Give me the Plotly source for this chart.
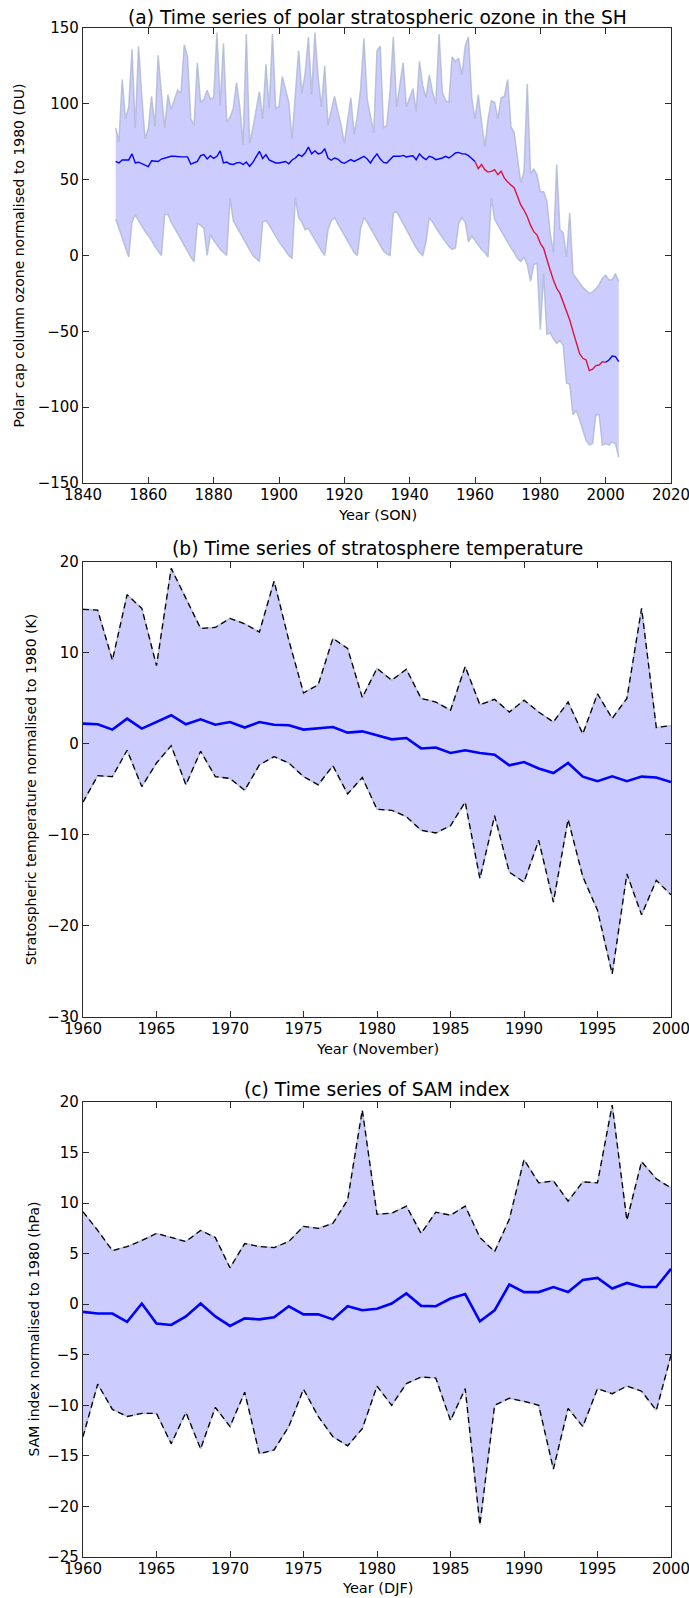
import plotly.graph_objects as go

# ---------------- (a) polar cap column ozone, SON, normalised to 1980 (DU)
ozone_years = list(range(1850, 2005))
ozone_upper = [
    84, 75, 116, 90, 98, 136, 84, 138, 105, 77,          # 1850s
    84, 105, 85, 132, 107, 84, 106, 96, 103, 109,        # 1860s
    107, 139, 131, 90, 86, 127, 101, 103, 109, 103,      # 1870s
    104, 147, 99, 140, 88, 91, 97, 114, 98, 73,          # 1880s
    146, 74, 84, 97, 108, 90, 126, 97, 146, 97,          # 1890s
    98, 118, 110, 101, 77, 106, 135, 107, 120, 144,      # 1900s
    106, 147, 117, 98, 125, 86, 95, 105, 95, 86,         # 1910s
    74, 88, 104, 80, 92, 110, 143, 103, 92, 81,          # 1920s
    135, 138, 84, 86, 108, 144, 98, 112, 127, 98,        # 1930s
    104, 110, 95, 128, 112, 104, 119, 108, 100, 146,     # 1940s
    108, 102, 101, 131, 128, 130, 119, 138, 144, 104,    # 1950s
    90, 106, 88, 72, 90, 102, 101, 90, 104, 105,         # 1960s
    116, 85, 81, 65, 48, 55, 113, 54, 57, 53,            # 1970s
    42, 42, 36, 15, 2, 60, 17, 15, -1, 28,               # 1980s
    -12, -15, -18, -21, -23, -25, -24, -22, -19, -15,    # 1990s
    -13, -16, -16, -12, -17,                             # 2000-2004
]
ozone_mean = [
    62, 61, 63, 63, 63, 67, 61, 61.5, 60.5, 60,
    58.6, 62.5, 62, 62, 63.6, 64.3, 65, 65.4, 65.4, 65,
    65, 65, 65, 60.3, 61, 62, 65.8, 66.5, 63.6, 65.8,
    64, 65.4, 69, 61, 61.6, 60.3, 60, 61, 61.4, 60,
    61.6, 58.8, 61.4, 65.4, 68.7, 64, 66.5, 63, 62, 61,
    61, 61.4, 62, 60.5, 63, 64.3, 66.5, 65.4, 67.6, 71.5,
    67, 69, 67, 67.6, 70.4, 64.3, 62.8, 64.3, 63.6, 61.6,
    60.8, 62, 63.2, 62, 63.2, 64.3, 65.4, 63.6, 61, 64.3,
    67, 63.6, 61.4, 61, 63.2, 65.4, 65.4, 65.4, 66, 65,
    65.4, 65.8, 63.2, 67, 64.7, 63.2, 65.4, 64.7, 63.2, 63.6,
    64.3, 65.4, 64.3, 65.8, 67.6, 68, 67, 67, 65.8, 64,
    62, 57.3, 60, 56.6, 55, 55.5, 56.6, 53.3, 55.5, 51,
    48.5, 46.5, 44.5, 39, 33.3, 30, 25.6, 20, 15.7, 13.5,
    8, 4.7, -3, -9.6, -16.2, -21.6, -25, -30.4, -37, -42.5,
    -50, -58, -64.5, -67.8, -68.9, -75.9, -75, -72.6, -72.2, -70,
    -70.4, -68.9, -66.3, -66.7, -70,
]
ozone_lower = [
    24, 18, 12, 6, -1, 22, 27, 23, 19, 16,
    13, 10, 6, 3, 0, 27, 27, 22, 18, 14,
    10, 6, 2, -1, -4, 21, 20, 18, 0, 14,
    10, 7, 4, 2, 0, 38, 23, 19, 15, 11,
    7, 3, 0, -2, -4, 22, 23, 20, 16, 12,
    9, 6, 3, 0, -2, 38, 25, 22, 17, 18,
    14, 10, 7, 3, 0, 17, 23, 25, 21, 17,
    13, 9, 5, 2, 0, 18, 25, 22, 18, 14,
    11, 7, 3, 1, 0, 28, 29, 25, 21, 17,
    13, 9, 5, 2, 0, 9, 25, 22, 18, 15,
    12, 9, 6, 4, 5, 21, 25, 22, 9, 13,
    10, 7, 4, 2, -1, 38, 24, 20, 16, 12,
    8, 5, 2, -2, -4, -1, -6, -17, -6, -5,
    -49, -12, -52, -51, -55, -58, -56, -59, -84, -85,
    -105, -102, -108, -115, -122, -125, -124, -105, -105, -125,
    -124, -125, -123, -124, -133,
]
# years of the mean drawn in red (the observational overlap period)
ozone_red_start, ozone_red_end = 1960, 2000

# ---------------- (b) November stratospheric temperature (K)
temp_years = list(range(1960, 2001))
temp_upper = [
    14.8, 14.7, 9.2, 16.4, 14.9, 8.6, 19.3, 16.0, 12.7, 12.8,
    13.8, 13.2, 12.3, 17.9, 11.4, 5.6, 6.5, 11.6, 10.5, 5.1,
    8.3, 7.0, 8.2, 5.0, 4.6, 3.7, 8.5, 4.3, 4.9, 3.5,
    4.8, 3.5, 2.4, 4.6, 1.1, 5.5, 2.8, 5.0, 14.9, 1.8,
    2.0,
]
temp_mean = [
    2.23, 2.16, 1.57, 2.78, 1.68, 2.4, 3.15, 2.16, 2.7, 2.1,
    2.4, 1.8, 2.4, 2.1, 2.05, 1.57, 1.68, 1.86, 1.24, 1.38,
    0.94, 0.5, 0.65, -0.5, -0.4, -1.0, -0.7, -1.0, -1.2, -2.36,
    -2.0, -2.7, -3.2, -2.1, -3.6, -4.1, -3.57, -4.1, -3.6, -3.7,
    -4.2,
]
temp_lower = [
    -6.4, -3.5, -3.6, -0.7, -4.7, -2.1, -0.2, -4.5, -0.8, -3.6,
    -3.8, -5.1, -2.3, -1.4, -2.1, -3.6, -4.5, -2.4, -5.5, -3.7,
    -7.2, -7.3, -8.0, -9.5, -9.8, -9.0, -6.4, -14.8, -7.9, -14.1,
    -15.2, -10.6, -17.4, -8.3, -14.6, -18.3, -25.3, -14.3, -18.8, -15.0,
    -16.6,
]

# ---------------- (c) DJF SAM index (hPa)
sam_years = list(range(1960, 2001))
sam_upper = [
    9.14, 7.3, 5.3, 5.7, 6.3, 7.0, 6.6, 6.2, 7.3, 6.6,
    3.6, 6.0, 5.7, 5.6, 6.2, 7.7, 7.5, 8.0, 10.3, 19.2,
    8.9, 9.0, 9.7, 7.0, 9.1, 8.8, 9.7, 6.6, 5.2, 8.4,
    14.3, 12.0, 12.2, 10.2, 12.1, 12.0, 19.7, 8.3, 14.1, 12.4,
    11.5,
]
sam_mean = [
    -0.76, -0.92, -0.92, -1.75, 0.07, -1.9, -2.05, -1.2, 0.07, -1.2,
    -2.15, -1.4, -1.5, -1.3, -0.2, -1.0, -1.0, -1.5, -0.2, -0.6,
    -0.45, 0.07, 1.06, -0.16, -0.2, 0.56, 1.0, -1.7, -0.6, 1.95,
    1.2, 1.2, 1.7, 1.2, 2.4, 2.6, 1.55, 2.1, 1.7, 1.7,
    3.5,
]
sam_lower = [
    -13.1, -7.9, -10.4, -11.1, -10.8, -10.8, -13.8, -10.7, -14.3, -10.2,
    -12.1, -8.7, -14.8, -14.4, -12.1, -8.4, -11.1, -13.1, -14.0, -12.3,
    -8.1, -10.0, -7.85, -7.2, -7.3, -11.5, -8.35, -21.8, -10.0, -9.3,
    -9.6, -10.0, -16.3, -10.3, -12.1, -8.35, -8.85, -8.1, -8.6, -10.5,
    -5.05,
]

for seq in (ozone_upper, ozone_mean, ozone_lower):
    assert len(seq) == len(ozone_years)
for seq in (temp_upper, temp_mean, temp_lower, sam_upper, sam_mean, sam_lower):
    assert len(seq) == len(temp_years)

# ---------------- styling
FONT = "DejaVu Sans"
FILL = "#ccccff"
EDGE = "rgba(172,184,206,0.8)"
W, H = 689, 1598
L, R, T, B = 83, 18, 28, 41
PW, PH = W - L - R, H - T - B


def px_y(y):
    """pixel row (from top) -> paper fraction"""
    return (H - B - y) / PH


def px_x(x):
    return (x - L) / PW


fig = go.Figure()


def band(xref, yref, years, lower, upper, dashed):
    fig.add_trace(go.Scatter(x=years, y=lower, mode="lines",
                             line=dict(color=EDGE, width=1.5),
                             xaxis=xref, yaxis=yref, hoverinfo="skip"))
    fig.add_trace(go.Scatter(x=years, y=upper, mode="lines", fill="tonexty",
                             fillcolor=FILL, line=dict(color=EDGE, width=1.5),
                             xaxis=xref, yaxis=yref, hoverinfo="skip"))
    if dashed:
        for seq in (lower, upper):
            fig.add_trace(go.Scatter(x=years, y=seq, mode="lines",
                                     line=dict(color="black", width=1.3, dash="6px,4px"),
                                     xaxis=xref, yaxis=yref, hoverinfo="skip"))


# (a)
band("x", "y", ozone_years, ozone_lower, ozone_upper, dashed=False)
segments = [
    ([y for y in ozone_years if y <= ozone_red_start], "blue"),
    ([y for y in ozone_years if ozone_red_start <= y <= ozone_red_end], "crimson"),
    ([y for y in ozone_years if y >= ozone_red_end], "blue"),
]
for yrs, col in segments:
    i0 = ozone_years.index(yrs[0])
    vals = ozone_mean[i0:i0 + len(yrs)]
    fig.add_trace(go.Scatter(x=yrs, y=vals, mode="lines",
                             line=dict(color=col, width=1.4),
                             xaxis="x", yaxis="y", hoverinfo="skip"))

# (b)
band("x2", "y2", temp_years, temp_lower, temp_upper, dashed=True)
fig.add_trace(go.Scatter(x=temp_years, y=temp_mean, mode="lines",
                         line=dict(color="blue", width=2.6),
                         xaxis="x2", yaxis="y2", hoverinfo="skip"))

# (c)
band("x3", "y3", sam_years, sam_lower, sam_upper, dashed=True)
fig.add_trace(go.Scatter(x=sam_years, y=sam_mean, mode="lines",
                         line=dict(color="blue", width=2.6),
                         xaxis="x3", yaxis="y3", hoverinfo="skip"))

axis_style = dict(showline=True, linecolor="#2a2a2a", linewidth=1.3, mirror="ticks",
                  ticks="inside", ticklen=6, tickwidth=1, tickcolor="#2a2a2a",
                  showgrid=False, zeroline=False, ticklabeloverflow="allow",
                  automargin=False,
                  tickfont=dict(family=FONT, size=15, color="black"))
x_style = dict(axis_style, ticklabelstandoff=-2)

panels = [  # (top px, bottom px)
    (28, 483),
    (562, 1016.7),
    (1102, 1557),
]
dom = [[px_y(b), px_y(t)] for t, b in panels]

fig.update_layout(
    width=W, height=H, margin=dict(l=L, r=R, t=T, b=B, autoexpand=False),
    paper_bgcolor="white", plot_bgcolor="white", showlegend=False,
    font=dict(family=FONT, color="black"),
    xaxis=dict(x_style, domain=[0, 1], range=[1840, 2020], tickvals=list(range(1840, 2021, 20)), anchor="y"),
    yaxis=dict(axis_style, domain=dom[0], range=[-150, 150], tickvals=list(range(-150, 151, 50)), anchor="x"),
    xaxis2=dict(x_style, domain=[0, 1], range=[1960, 2000], tickvals=list(range(1960, 2001, 5)), anchor="y2"),
    yaxis2=dict(axis_style, domain=dom[1], range=[-30, 20], tickvals=list(range(-30, 21, 10)), anchor="x2"),
    xaxis3=dict(x_style, domain=[0, 1], range=[1960, 2000], tickvals=list(range(1960, 2001, 5)), anchor="y3"),
    yaxis3=dict(axis_style, domain=dom[2], range=[-25, 20], tickvals=list(range(-25, 21, 5)), anchor="x3"),
)

titles = [
    ("(a) Time series of polar stratospheric ozone in the SH", 17,
     "Year (SON)", 515, "Polar cap column ozone normalised to 1980 (DU)", 18),
    ("(b) Time series of stratosphere temperature", 549,
     "Year (November)", 1049, "Stratospheric temperature normalised to 1980 (K)", 31),
    ("(c) Time series of SAM index", 1089,
     "Year (DJF)", 1588, "SAM index normalised to 1980 (hPa)", 33),
]
for (title, ty, xt, xty, yt, ytx), (top, bot) in zip(titles, panels):
    fig.add_annotation(text=title, xref="paper", yref="paper", x=0.5, y=px_y(ty),
                       xanchor="center", yanchor="middle", showarrow=False,
                       font=dict(family=FONT, size=18.7, color="black"))
    fig.add_annotation(text=xt, xref="paper", yref="paper", x=0.5, y=px_y(xty),
                       xanchor="center", yanchor="middle", showarrow=False,
                       font=dict(family=FONT, size=14.5, color="black"))
    fig.add_annotation(text=yt, xref="paper", yref="paper", x=px_x(ytx), y=px_y((top + bot) / 2),
                       xanchor="center", yanchor="middle", showarrow=False, textangle=-90,
                       font=dict(family=FONT, size=14, color="black"))

fig.write_html("out.html")
